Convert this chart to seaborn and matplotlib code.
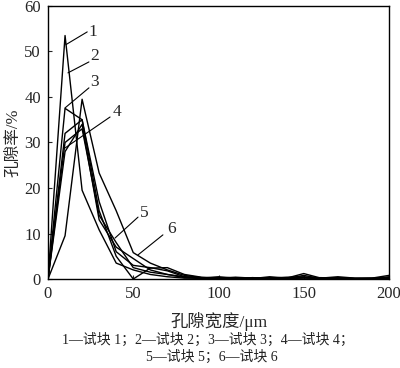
import numpy as np
import pandas as pd
import matplotlib
matplotlib.use("Agg")
import matplotlib.pyplot as plt
import seaborn as sns

# pore width (um) and porosity (%) for the six test blocks
width = [0, 10, 20, 30, 40, 50, 60, 70, 80, 90, 100,
         110, 120, 130, 140, 150, 160, 170, 180, 190, 200]
block1 = [0, 53.5, 19.5, 10.8, 3.5, 2.0, 1.0, 0.5, 0.2, 0.2, 0.1,
          0.1, 0.2, 0.1, 0.1, 0.3, 0.1, 0.1, 0.1, 0.1, 0.2]
block2 = [0, 9.5, 39.5, 23.3, 15.0, 5.8, 3.5, 2.0, 0.8, 0.3, 0.2,
          0.1, 0.3, 0.2, 0.1, 0.2, 0.1, 0.2, 0.1, 0.1, 0.1]
block3 = [0, 37.5, 35.0, 17.0, 6.0, 3.0, 2.5, 1.8, 0.5, 0.3, 0.3,
          0.2, 0.1, 0.5, 0.2, 1.2, 0.2, 0.1, 0.1, 0.2, 0.8]
block4 = [0, 32.0, 35.0, 15.0, 5.0, 0.0, 2.4, 2.5, 1.0, 0.4, 0.2,
          0.4, 0.2, 0.2, 0.4, 0.5, 0.2, 0.5, 0.2, 0.1, 0.3]
block5 = [0, 28.0, 34.0, 13.0, 7.0, 4.5, 2.0, 1.0, 0.5, 0.2, 0.5,
          0.2, 0.3, 0.1, 0.2, 0.3, 0.3, 0.2, 0.1, 0.2, 0.1]
block6 = [0, 30.0, 33.0, 14.0, 8.0, 2.5, 1.5, 1.0, 0.3, 0.1, 0.1,
          0.3, 0.1, 0.3, 0.1, 0.8, 0.1, 0.3, 0.1, 0.1, 0.5]
series = [block1, block2, block3, block4, block5, block6]

# curve labels: text centre and leader line ends (data coords)
label_names = ["1", "2", "3", "4", "5", "6"]
label_xy = [(26.5, 54.3), (27.2, 48.9), (27.2, 43.2), (40.5, 36.6), (56.5, 14.4), (72.3, 10.9)]
leader_from = [(10.5, 51.5), (11.7, 45.3), (10.0, 37.6), (10.0, 28.8), (39.3, 9.0), (52.8, 5.3)]
leader_to = [(23.0, 54.3), (24.0, 47.7), (24.0, 42.0), (36.4, 35.6), (52.8, 13.6), (67.4, 9.7)]

sns.set_style("ticks")
plt.rcParams['font.family'] = ['Liberation Serif', 'Noto Sans CJK SC']
plt.rcParams['xtick.direction'] = 'in'
plt.rcParams['ytick.direction'] = 'in'

fig = plt.figure(figsize=(4.0, 3.68), dpi=100)
ax = fig.add_axes([0.12, 0.2418, 0.8525, 0.742])

rows = []
for i, s in enumerate(series):
    for xv, yv in zip(width, s):
        rows.append({"width": xv, "porosity": yv, "block": label_names[i]})
df = pd.DataFrame(rows)

sns.lineplot(data=df, x="width", y="porosity", units="block", estimator=None,
             color="black", linewidth=1.0, ax=ax, legend=False)

for name, (tx, ty), p0, p1 in zip(label_names, label_xy, leader_from, leader_to):
    ax.plot([p0[0], p1[0]], [p0[1], p1[1]], color="black", linewidth=0.8)
    ax.text(tx, ty, name, fontsize=12.5, ha="center", va="center")

ax.set_xlim(0, 200)
ax.set_ylim(0, 60)
ax.set_xticks([0, 50, 100, 150, 200])
ax.set_yticks([0, 10, 20, 30, 40, 50, 60])
ax.tick_params(labelsize=12, length=3, width=0.8, pad=5)
for sp in ax.spines.values():
    sp.set_linewidth(1.0)
    sp.set_color("black")

ax.set_xlabel("孔隙宽度/μm", fontsize=12.5, labelpad=7)
ax.set_ylabel("孔隙率/%", fontsize=12, labelpad=2)

fig.text(0.52, 0.077, "1—试块 1；2—试块 2；3—试块 3；4—试块 4；", fontsize=10,
         ha="center", va="center", color="#222222")
fig.text(0.53, 0.030, "5—试块 5；6—试块 6", fontsize=10,
         ha="center", va="center", color="#222222")

fig.savefig("out.png", dpi=100)
